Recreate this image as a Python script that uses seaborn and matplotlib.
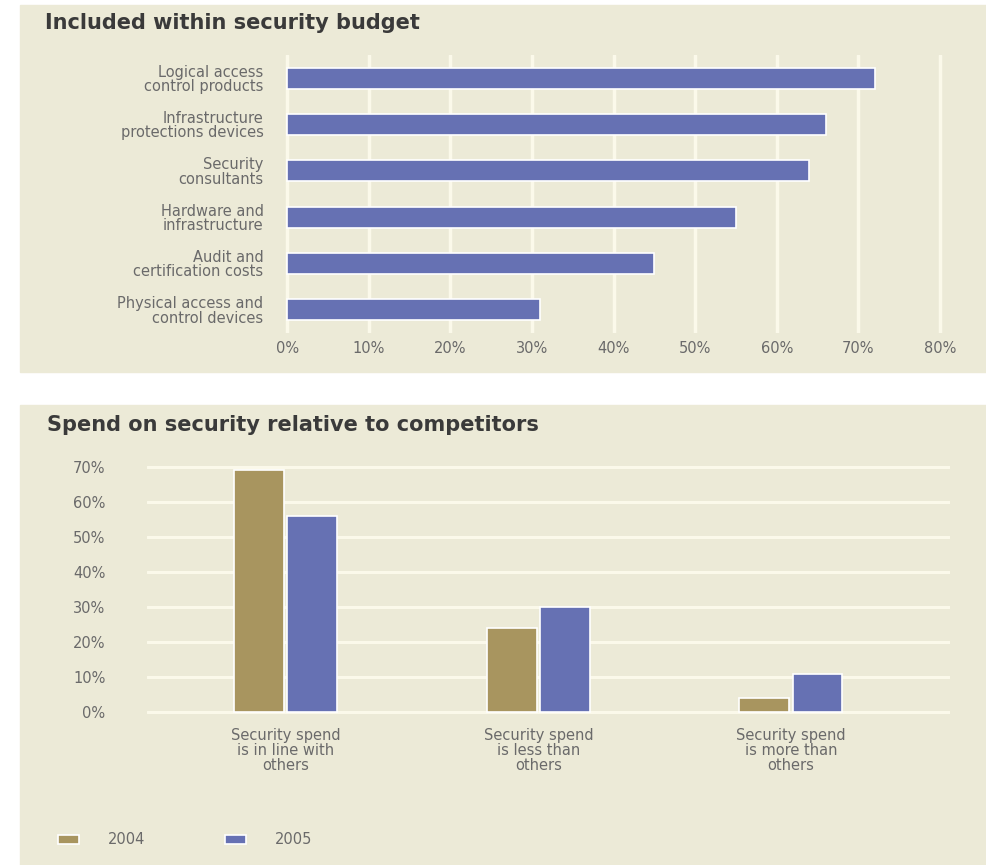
import numpy as np
import pandas as pd
import matplotlib
matplotlib.use("Agg")
import matplotlib.pyplot as plt
from matplotlib.patches import Rectangle
import seaborn as sns

# data
budget_items = ["Logical access\ncontrol products",
                "Infrastructure\nprotections devices",
                "Security\nconsultants",
                "Hardware and\ninfrastructure",
                "Audit and\ncertification costs",
                "Physical access and\ncontrol devices"]
budget_pct = [72, 66, 64, 55, 45, 31]

spend_cats = ["Security spend\nis in line with\nothers",
              "Security spend\nis less than\nothers",
              "Security spend\nis more than\nothers"]
pct_2004 = [69, 24, 4]
pct_2005 = [56, 30, 11]
years = ["2004", "2005"]

budget_ticks = list(range(0, 81, 10))
spend_ticks = list(range(0, 71, 10))

# colours
bg = "#ecead7"
grid_col = "#fbf9ea"
blue = "#6671b3"
tan = "#a8955f"
title_col = "#3a3a3a"
tick_col = "#6a6a6a"

sns.set_style("white")
plt.rcParams['font.family'] = ['DejaVu Sans']

W, H = 986, 865
fig = plt.figure(figsize=(W / 100, H / 100), dpi=100, facecolor="white")

# beige panels
fig.add_artist(Rectangle((20 / W, 1 - 372 / H), 966 / W, 367 / H,
                         transform=fig.transFigure, color=bg, zorder=0))
fig.add_artist(Rectangle((20 / W, 0), 966 / W, (H - 405) / H,
                         transform=fig.transFigure, color=bg, zorder=0))


def px_axes(left, top, right, bottom):
    return fig.add_axes([left / W, 1 - bottom / H, (right - left) / W, (bottom - top) / H])


# ---- top chart: included within security budget ----
ax1 = px_axes(283, 55, 944, 333)
ax1.set_facecolor("none")
sns.barplot(x=budget_pct, y=budget_items, orient="h", color=blue, width=0.45,
            edgecolor="white", linewidth=1.2, saturation=1, ax=ax1)
ax1.set_xlim(-0.5, 80.5)
ax1.set_xticks(budget_ticks)
ax1.set_xticklabels([f"{t}%" for t in budget_ticks])
ax1.xaxis.grid(True, color=grid_col, linewidth=2.5)
ax1.set_axisbelow(True)
ax1.set_xlabel("")
ax1.set_ylabel("")
ax1.tick_params(axis="x", length=0, pad=6, labelsize=10.5, labelcolor=tick_col)
ax1.tick_params(axis="y", length=0, pad=14, labelsize=10.5, labelcolor=tick_col)
for lab in ax1.get_yticklabels():
    lab.set_linespacing(0.95)
    lab.set_horizontalalignment("right")
sns.despine(ax=ax1, left=True, bottom=True)

fig.text(45 / W, 1 - 23 / H, "Included within security budget", fontsize=15,
         fontweight="bold", color=title_col, va="center", ha="left")

# ---- bottom chart: spend relative to competitors ----
df = pd.DataFrame({
    "category": spend_cats * 2,
    "year": [years[0]] * 3 + [years[1]] * 3,
    "pct": pct_2004 + pct_2005,
})

ax2 = px_axes(147, 465, 950, 714)
ax2.set_facecolor("none")
sns.barplot(data=df, x="category", y="pct", hue="year", palette=[tan, blue],
            width=0.42, gap=0.06, edgecolor="white", linewidth=1.2,
            saturation=1, ax=ax2)
ax2.set_xlim(-0.55, 2.63)
ax2.set_ylim(-0.5, 70.5)
ax2.set_yticks(spend_ticks)
ax2.set_yticklabels([f"{t}%" for t in spend_ticks])
ax2.yaxis.grid(True, color=grid_col, linewidth=2.2)
ax2.set_axisbelow(True)
ax2.set_xlabel("")
ax2.set_ylabel("")
ax2.tick_params(axis="y", length=0, pad=30, labelsize=10.5, labelcolor=tick_col)
ax2.tick_params(axis="x", length=0, pad=10, labelsize=10.5, labelcolor=tick_col)
for lab in ax2.get_xticklabels():
    lab.set_linespacing(1.0)
sns.despine(ax=ax2, left=True, bottom=True)

sns.move_legend(ax2, "center left", bbox_to_anchor=(45 / W, 1 - 840 / H),
                bbox_transform=fig.transFigure, ncol=2, frameon=False, title=None,
                fontsize=10.5, handlelength=1.4, handleheight=0.55,
                handletextpad=2.0, columnspacing=5.5, labelcolor=tick_col)

fig.text(47 / W, 1 - 425 / H, "Spend on security relative to competitors", fontsize=15,
         fontweight="bold", color=title_col, va="center", ha="left")

plt.savefig("out.png", dpi=100, facecolor="white")
